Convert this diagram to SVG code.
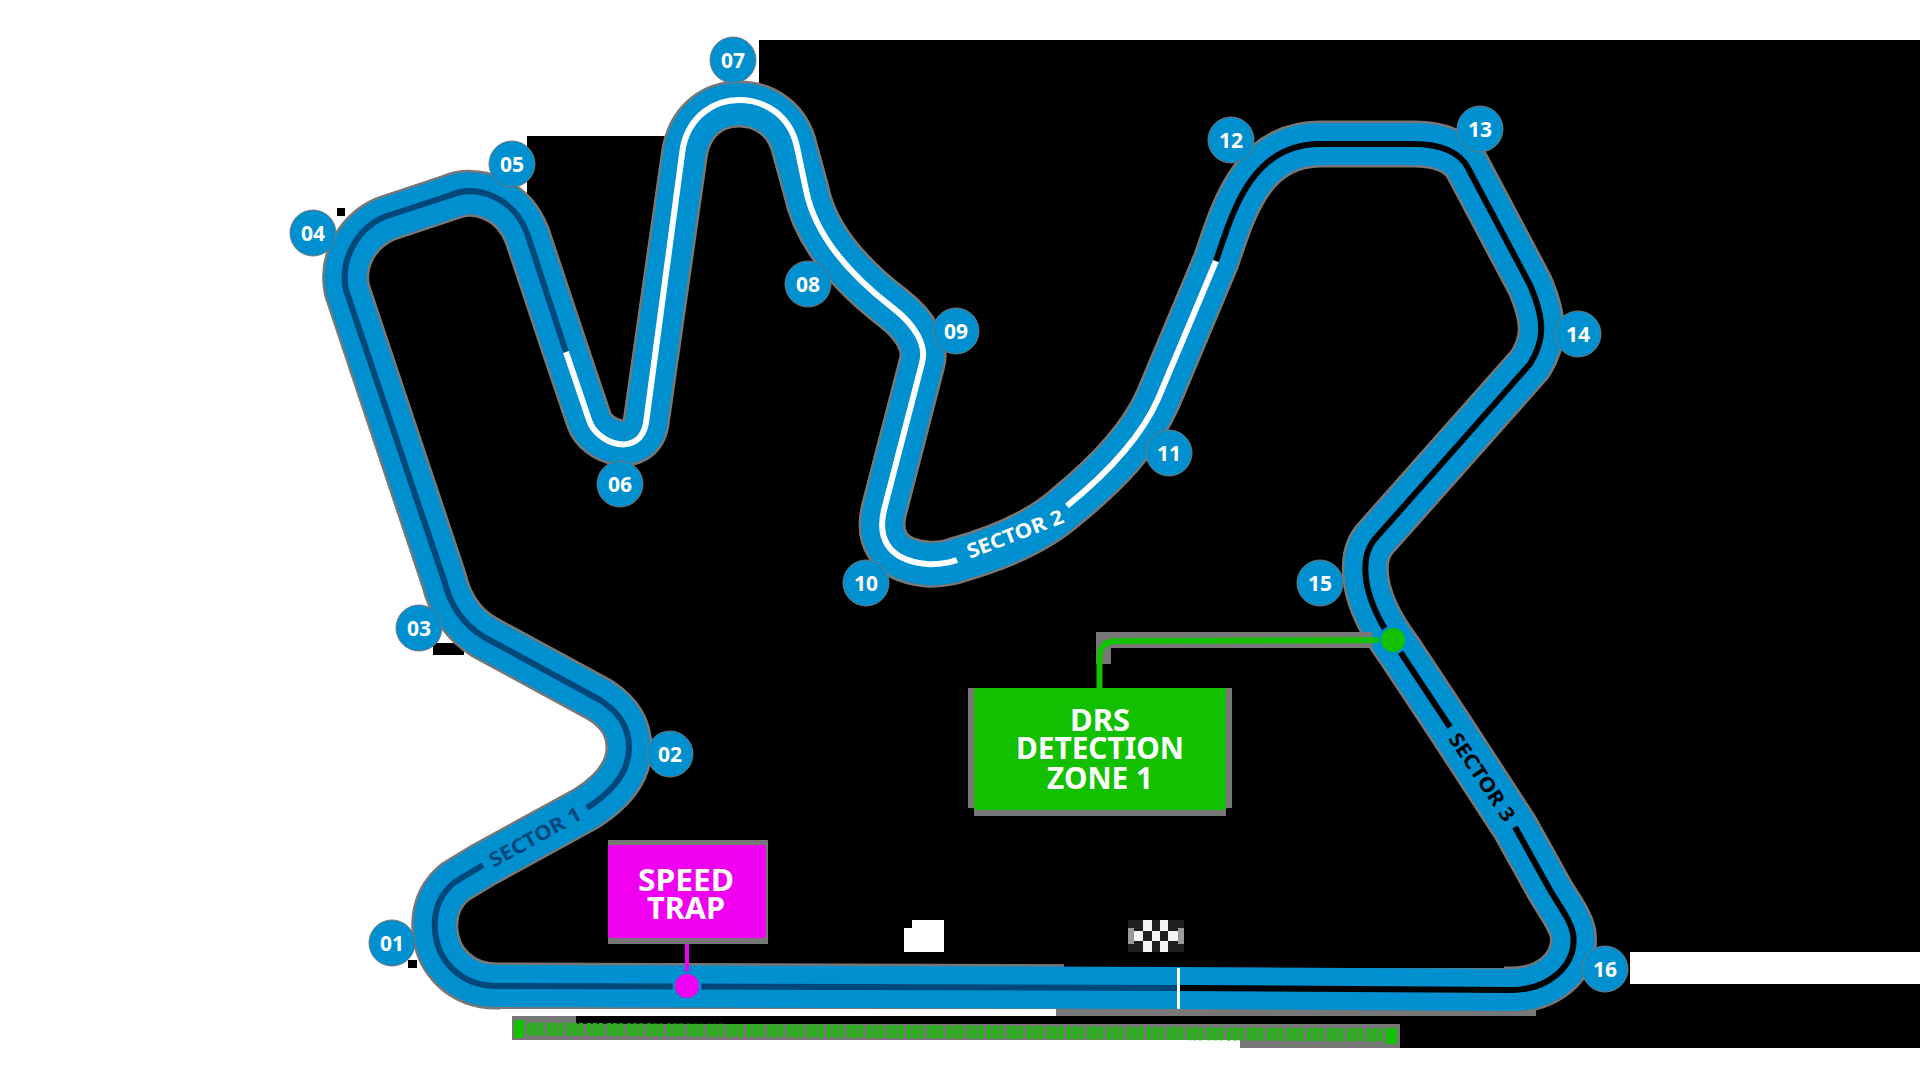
<svg xmlns="http://www.w3.org/2000/svg" width="1920" height="1080" viewBox="0 0 1920 1080">
<style>
text{font-family:"Noto Sans","Open Sans","Liberation Sans",sans-serif;font-weight:700;text-anchor:middle}
.t{fill:none;stroke-linecap:butt;stroke-linejoin:round}
.badge circle{fill:#0090d0;stroke:#777;stroke-width:1}
.badge text{fill:#fff;font-size:21px}
.box{fill:#fff;font-size:31px}
.sec{font-size:20px}
</style>
<defs>
<path id="trackPath" d="M1178 988 L497 986 C460 986 437 960 435 930 C433 905 445 890 455 882 L483 865 L587 808 C615 790 629 770 629 748 C629 725 617 711 600 700 L484 637 C464 625 450 605 444 580 L347 290 C341 262 356 232 385 219 L451 197 C475 187 512 197 527 235 L566 352 L589 420 C597 443 640 456 646 423 L685 150 C692 118 715 104 739 104 C763 104 788 118 795 150 L806 190 C815 235 850 275 893 308 C915 325 927 345 922 363 L884 510 C878 535 885 560 927 564 C945 565 957 560 957 560 C1000 548 1040 530 1067 506 C1105 475 1140 440 1158 399 L1216 261 C1232 215 1250 144 1320 144 L1414 144 C1440 144 1460 152 1468 168 L1530 285 C1545 320 1545 340 1530 364 L1374 540 C1362 555 1358 590 1392 640 L1401 653 L1450 727 L1515 827 L1550 890 C1562 910 1570 920 1573 933 C1578 968 1545 990 1512 990 Z"/>
</defs>
<rect id="page" width="1920" height="1080" fill="#fff"/>
<path id="blackfield" fill="#000" d="M1920 40 L759 40 L759 100 L739 100 L685 136 L527 136 L527 233 L500 198 L469 191 L384 217 L346 290 L444 580 L484 637 L600 700 L629 748 L587 808 L483 865 L455 882 L435 930 L497 986 L1056 988 L1056 1016 L576 1016 L576 1024 L1400 1024 L1400 1048 L1920 1048 L1920 984 L1630 984 L1630 952 L1920 952 Z"/>
<path fill="#000" d="M337 208h8v8h-8z M433 643h31v12h-31z M408 960h9v8h-9z"/>
<g id="track">
<use href="#trackPath" class="t" stroke="#777" stroke-width="47"/>
<rect x="1064" y="955" width="440" height="13" fill="#000"/>
<rect x="500" y="1009" width="556" height="7" fill="#fff"/>
<rect x="576" y="1016" width="480" height="8" fill="#000"/>
<rect x="1056" y="1010" width="480" height="6" fill="#777"/>
<use href="#trackPath" class="t" stroke="#0090d0" stroke-width="42"/>
<path class="t" stroke="#00477a" stroke-width="6" d="M1178 988 L497 986 C460 986 437 960 435 930 C433 905 445 890 455 882 L483 865"/>
<path class="t" stroke="#00477a" stroke-width="6" d="M587 808 C615 790 629 770 629 748 C629 725 617 711 600 700 L484 637 C464 625 450 605 444 580 L346 290 C340 262 355 230 384 217 L451 195 C475 185 512 195 527 233 L566 352"/>
<path class="t" stroke="#fff" stroke-width="6" d="M566 352 L589 420 C597 445 640 458 646 423 L683 147 C690 115 715 100 739 100 C765 100 790 115 797 147 L806 190 C815 235 850 275 893 308 C915 325 927 345 922 363 L884 510 C878 535 885 560 927 564 C945 565 957 560 957 560"/>
<path class="t" stroke="#fff" stroke-width="6" d="M1067 506 C1105 475 1140 440 1158 399 L1216 261"/>
<path class="t" stroke="#000" stroke-width="6" d="M1216 261 C1232 215 1250 144 1320 144 L1414 144 C1440 144 1460 152 1468 168 L1530 285 C1545 320 1545 340 1530 364 L1374 540 C1362 555 1358 590 1392 640 L1401 653 L1450 727"/>
<path class="t" stroke="#000" stroke-width="6" d="M1515 827 L1550 890 C1562 910 1570 920 1573 933 C1578 968 1545 990 1512 990 L1178 988"/>
<rect x="1177" y="968" width="3" height="41" fill="#fff"/>
<text class="sec" fill="#00477a" transform="translate(535 837) rotate(-29)" y="7" textLength="102" lengthAdjust="spacingAndGlyphs">SECTOR 1</text>
<text class="sec" fill="#fff" transform="translate(1015 534) rotate(-21)" y="7" textLength="102" lengthAdjust="spacingAndGlyphs">SECTOR 2</text>
<text class="sec" fill="#000" transform="translate(1482 777) rotate(56)" y="7" textLength="102" lengthAdjust="spacingAndGlyphs">SECTOR 3</text>
</g>
<g id="ticks">
<rect x="512" y="1024" width="888" height="16" fill="#777"/>
<rect x="1240" y="1040" width="160" height="8" fill="#777"/>
<rect x="512" y="1016" width="64" height="8" fill="#777"/>
<rect x="514" y="1020" width="10" height="18" fill="#12c000"/>
<path d="M527 1029 L1385 1035" stroke="#12c000" stroke-width="13" stroke-dasharray="4 2 4 2 4 4" fill="none"/>
<rect x="1386" y="1028" width="11" height="16" fill="#12c000"/>
</g>
<g id="pit-marker"><path fill="#fff" d="M904 928h8v-8h32v32h-40z"/></g>
<g id="flag">
<rect x="1128" y="920" width="56" height="32" fill="#1e1e1e"/>
<path fill="#999" d="M1128 928h6v16h-6z M1178 928h6v16h-6z"/>
<path fill="#f4f4f4" d="M1143 920h9v11h-9z M1160 920h8v11h-8z M1134 931h9v10h-9z M1152 931h8v10h-8z M1168 931h10v10h-10z M1143 941h9v11h-9z M1160 941h8v11h-8z"/>
</g>
<g id="connectors">
<path d="M687 938 V986" stroke="#f000f0" stroke-width="4" fill="none"/>
<path d="M1096 664 V632 H1372 V648 H1111 V664 Z" fill="#777"/>
<path d="M1099.500 690 V658 Q1099.500 641 1117 641 L1393 640" stroke="#12c000" stroke-width="6" fill="none"/>
</g>
<g id="speed-trap">
<rect x="608" y="840" width="160" height="104" fill="#777"/>
<rect x="608" y="845" width="158" height="93" rx="3" fill="#f000f0"/>
<text class="box" x="686" y="891" textLength="96" lengthAdjust="spacingAndGlyphs">SPEED</text>
<text class="box" x="686" y="919" textLength="78" lengthAdjust="spacingAndGlyphs">TRAP</text>
<circle cx="687" cy="986" r="14.5" fill="#0090d0"/>
<circle cx="687" cy="986" r="12" fill="#f000f0"/>
</g>
<g id="drs-detection">
<path d="M968 688h264v120h-6v8h-252v-8h-6z" fill="#777"/>
<rect x="974" y="688" width="252" height="122" rx="3" fill="#12c000"/>
<text class="box" x="1100" y="731" textLength="60" lengthAdjust="spacingAndGlyphs">DRS</text>
<text class="box" x="1100" y="759" textLength="168" lengthAdjust="spacingAndGlyphs">DETECTION</text>
<text class="box" x="1100" y="789" textLength="106" lengthAdjust="spacingAndGlyphs">ZONE 1</text>
<circle cx="1393" cy="640" r="14.5" fill="#0090d0"/>
<circle cx="1393" cy="640" r="12" fill="#12c000"/>
</g>
<g id="turn-01" class="badge"><circle cx="392" cy="943" r="23"/><text x="392" y="950.500">01</text></g>
<g id="turn-02" class="badge"><circle cx="670" cy="754" r="23"/><text x="670" y="761.500">02</text></g>
<g id="turn-03" class="badge"><circle cx="419" cy="628" r="23"/><text x="419" y="635.500">03</text></g>
<g id="turn-04" class="badge"><circle cx="313" cy="233" r="23"/><text x="313" y="240.500">04</text></g>
<g id="turn-05" class="badge"><circle cx="512" cy="164" r="23"/><text x="512" y="171.500">05</text></g>
<g id="turn-06" class="badge"><circle cx="620" cy="484" r="23"/><text x="620" y="491.500">06</text></g>
<g id="turn-07" class="badge"><circle cx="733" cy="60" r="23"/><text x="733" y="67.500">07</text></g>
<g id="turn-08" class="badge"><circle cx="808" cy="284" r="23"/><text x="808" y="291.500">08</text></g>
<g id="turn-09" class="badge"><circle cx="956" cy="331" r="23"/><text x="956" y="338.500">09</text></g>
<g id="turn-10" class="badge"><circle cx="866" cy="583" r="23"/><text x="866" y="590.500">10</text></g>
<g id="turn-11" class="badge"><circle cx="1169" cy="453" r="23"/><text x="1169" y="460.500">11</text></g>
<g id="turn-12" class="badge"><circle cx="1231" cy="140" r="23"/><text x="1231" y="147.500">12</text></g>
<g id="turn-13" class="badge"><circle cx="1480" cy="129" r="23"/><text x="1480" y="136.500">13</text></g>
<g id="turn-14" class="badge"><circle cx="1578" cy="334" r="23"/><text x="1578" y="341.500">14</text></g>
<g id="turn-15" class="badge"><circle cx="1320" cy="583" r="23"/><text x="1320" y="590.500">15</text></g>
<g id="turn-16" class="badge"><circle cx="1605" cy="969" r="23"/><text x="1605" y="976.500">16</text></g>
</svg>
